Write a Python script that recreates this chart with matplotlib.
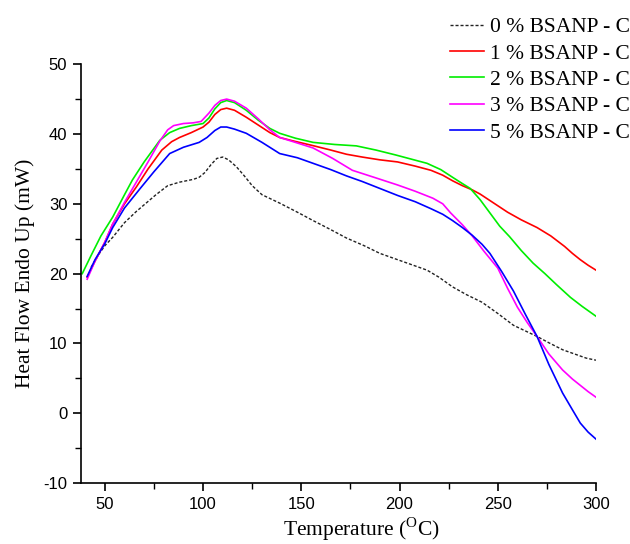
#!/usr/bin/env python
"""DSC heat-flow curves for BSANP-C loadings."""

import numpy as np
import matplotlib
matplotlib.use("Agg")
import matplotlib.pyplot as plt

# 0 % BSANP - C
t0 = [43, 47, 50, 54, 60, 66, 71, 76, 82, 88, 95, 98, 101, 104, 107, 110,
      113, 117, 121, 125, 130, 139, 148, 156, 165, 173, 182, 190, 200, 207,
      214, 220, 227, 234, 242, 250, 258, 264, 270, 276, 283, 290, 295, 300]
q0 = [20.9, 22.8, 24.0, 25.2, 27.3, 28.9, 30.1, 31.3, 32.6, 33.1, 33.5, 33.8,
      34.5, 35.6, 36.5, 36.7, 36.3, 35.3, 34.0, 32.6, 31.3, 30.1, 28.8, 27.6,
      26.3, 25.1, 24.0, 22.9, 21.9, 21.2, 20.5, 19.5, 18.1, 17.0, 15.9, 14.3,
      12.6, 11.8, 11.0, 10.1, 9.1, 8.4, 7.9, 7.6]

# 1 % BSANP - C
t1 = [41, 45, 50, 54, 60, 66, 72, 79, 84, 88, 94, 100, 103, 106, 109, 112,
      116, 122, 128, 134, 139, 146, 155, 165, 173, 181, 190, 199, 208, 216,
      222, 227, 232, 237, 241, 248, 255, 262, 270, 277, 284, 288, 292, 296, 300]
q1 = [19.5, 21.8, 24.5, 27.1, 30.0, 32.4, 35.0, 37.7, 38.9, 39.5, 40.2, 41.0,
      41.7, 42.8, 43.5, 43.7, 43.4, 42.4, 41.3, 40.2, 39.5, 39.0, 38.4, 37.7,
      37.1, 36.7, 36.3, 36.0, 35.4, 34.8, 34.1, 33.3, 32.6, 32.0, 31.4, 30.1,
      28.8, 27.7, 26.6, 25.4, 23.9, 22.9, 22.0, 21.2, 20.5]

# 2 % BSANP - C
t2 = [38.5, 43, 48, 54, 60, 64, 70, 78, 83, 88, 94, 100, 103, 106, 109, 112,
      116, 122, 128, 134, 139, 147, 156, 167, 178, 188, 198, 206, 214, 221,
      227, 232, 236, 241, 246, 251, 256, 262, 268, 274, 280, 287, 293, 300]
q2 = [20.0, 22.6, 25.4, 28.1, 31.3, 33.4, 36.0, 39.1, 40.2, 40.8, 41.2, 41.5,
      42.3, 43.6, 44.5, 44.8, 44.5, 43.4, 42.0, 40.8, 40.1, 39.4, 38.8, 38.5,
      38.3, 37.7, 37.0, 36.4, 35.8, 34.9, 33.8, 32.9, 32.2, 30.6, 28.7, 26.8,
      25.3, 23.3, 21.5, 20.0, 18.4, 16.6, 15.3, 13.9]

# 3 % BSANP - C
t3 = [41, 45, 50, 54, 60, 66, 72, 78, 82, 85, 90, 95, 99, 103, 106, 109, 112,
      116, 122, 128, 134, 139, 147, 156, 166, 176, 187, 199, 208, 217, 222,
      226, 232, 237, 243, 250, 255, 260, 265, 270, 276, 283, 288, 292, 296, 300]
q3 = [19.2, 21.8, 24.5, 27.1, 30.2, 33.1, 36.0, 39.0, 40.6, 41.2, 41.5, 41.6,
      41.8, 43.0, 44.1, 44.8, 45.0, 44.7, 43.7, 42.2, 40.6, 39.5, 38.8, 38.0,
      36.5, 34.8, 33.8, 32.7, 31.8, 30.8, 30.0, 28.7, 27.0, 25.4, 23.2, 20.8,
      17.9, 15.2, 13.0, 11.0, 8.5, 6.2, 4.9, 4.0, 3.1, 2.3]

# 5 % BSANP - C
t5 = [41, 45, 50, 54, 60, 68, 75, 83, 90, 98, 102, 106, 109, 112, 116, 122,
      130, 139, 148, 156, 165, 173, 181, 190, 199, 208, 216, 222, 227, 232,
      237, 242, 246, 252, 258, 264, 270, 276, 283, 288, 292, 296, 300]
q5 = [19.6, 22.0, 24.3, 26.6, 29.4, 32.2, 34.6, 37.2, 38.1, 38.8, 39.5, 40.5,
      41.0, 41.0, 40.7, 40.1, 38.8, 37.2, 36.6, 35.8, 34.9, 34.0, 33.2, 32.2,
      31.2, 30.3, 29.3, 28.5, 27.6, 26.6, 25.5, 24.2, 22.9, 20.3, 17.5, 14.2,
      11.0, 7.0, 2.9, 0.5, -1.4, -2.7, -3.7]

LABELS = ["0 % BSANP - C", "1 % BSANP - C", "2 % BSANP - C",
          "3 % BSANP - C", "5 % BSANP - C"]
COLORS = ["#222222", "#ff0000", "#00ee00", "#ff00ff", "#0000ff"]


def main():
    plt.rcParams["font.family"] = "Liberation Serif"
    plt.rcParams["axes.unicode_minus"] = False
    fig = plt.figure(figsize=(6.30, 5.44), dpi=100)
    ax = fig.add_axes([0.129, 0.112, 0.817, 0.770])

    series = [(t0, q0), (t1, q1), (t2, q2), (t3, q3), (t5, q5)]
    for i, (t, q) in enumerate(series):
        if i == 0:
            ax.plot(t, q, color=COLORS[i], lw=1.0, dashes=(2.2, 1.4),
                    label=LABELS[i])
        else:
            ax.plot(t, q, color=COLORS[i], lw=1.2, label=LABELS[i])

    ax.set_xlim(38, 300)
    ax.set_ylim(-10, 50)
    ax.set_xticks(np.arange(50, 301, 50))
    ax.set_xticks(np.arange(75, 300, 50), minor=True)
    ax.set_yticks(np.arange(-10, 51, 10))
    ax.set_yticks(np.arange(-5, 50, 10), minor=True)
    ax.spines["top"].set_visible(False)
    ax.spines["right"].set_visible(False)
    for s in ("left", "bottom"):
        ax.spines[s].set_linewidth(1.2)
    ax.tick_params(which="major", direction="out", length=6, width=1.2,
                   labelsize=12, pad=4)
    ax.tick_params(which="minor", direction="out", length=4, width=1.0)
    for lab in ax.get_xticklabels() + ax.get_yticklabels():
        lab.set_family("Liberation Sans")

    ax.set_ylabel("Heat Flow Endo Up (mW)", fontsize=15.5)
    ax.yaxis.set_label_coords(-0.09, 0.5)
    ax.set_xlabel(r"Temperature ($^{\mathregular{O}}$C)", fontsize=15.5)
    ax.xaxis.set_label_coords(0.545, -0.077)

    # legend sits above the plot area, partly outside the axes
    fig.legend(loc="upper right", bbox_to_anchor=(1.03, 1.004), frameon=False,
               fontsize=15.5, handlelength=1.6, handletextpad=0.25,
               labelspacing=0.29)

    fig.savefig("out.png", dpi=100)
    plt.close(fig)


if __name__ == "__main__":
    main()
